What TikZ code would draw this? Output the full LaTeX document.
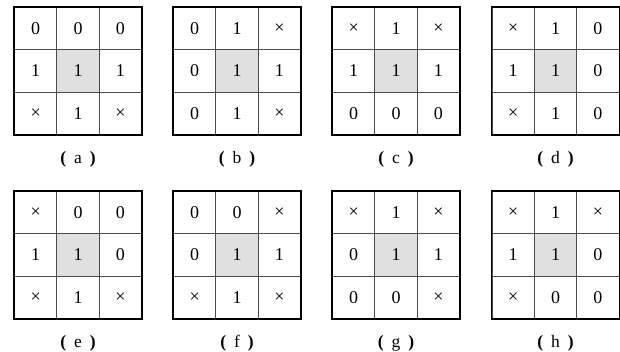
\documentclass[tikz,border=0pt]{standalone}
\usepackage{fontspec}
\setmainfont{Liberation Serif}
\usetikzlibrary{positioning}

% one 3x3 panel: #1 x, #2 y (top left), #3 name, #4 the nine entries
\newcommand\drawpanel[4]{%
  \foreach \v [count=\i from 0] in {#4} {
    \pgfmathtruncatemacro\row{\i/3}
    \pgfmathtruncatemacro\col{\i-3*\row}
    \ifnum\i=4 \def\shade{mitte}\else\def\shade{}\fi
    \node[zelle, \shade] (#3\i) at (#1+\col*42.4, -#2-\row*42.4) {\v};
  }
  \draw[rahmen] (#30.north west) rectangle (#38.south east);
  \node[titel] (cap#3) at ([yshift=-24pt]#37.south) {\textbf{(}\hspace{8pt}#3\hspace{8pt}\textbf{)}};
}

\begin{document}
\begin{tikzpicture}[
    x=1pt, y=1pt,
    zelle/.style={draw=black!70, line width=0.8pt, minimum size=42.4pt, inner sep=0pt,
                  anchor=north west, font=\fontsize{18}{18}\selectfont},
    mitte/.style={fill=black!12},
    rahmen/.style={draw=black, line width=1.1pt},
    titel/.style={inner sep=0pt, font=\fontsize{17.5}{17.5}\selectfont}
  ]
    \useasboundingbox (0,0) rectangle (620,-352);
    % top row
    \drawpanel{14}{7}{a}{0,0,0,1,1,1,×,1,×}
    \drawpanel{173}{7}{b}{0,1,×,0,1,1,0,1,×}
    \drawpanel{332}{7}{c}{×,1,×,1,1,1,0,0,0}
    \drawpanel{491.5}{7}{d}{×,1,0,1,1,0,×,1,0}
    % bottom row
    \drawpanel{14}{191}{e}{×,0,0,1,1,0,×,1,×}
    \drawpanel{173}{191}{f}{0,0,×,0,1,1,×,1,×}
    \drawpanel{332}{191}{g}{×,1,×,0,1,1,0,0,×}
    \drawpanel{491.5}{191}{h}{×,1,×,1,1,0,×,0,0}
  \end{tikzpicture}
\end{document}
